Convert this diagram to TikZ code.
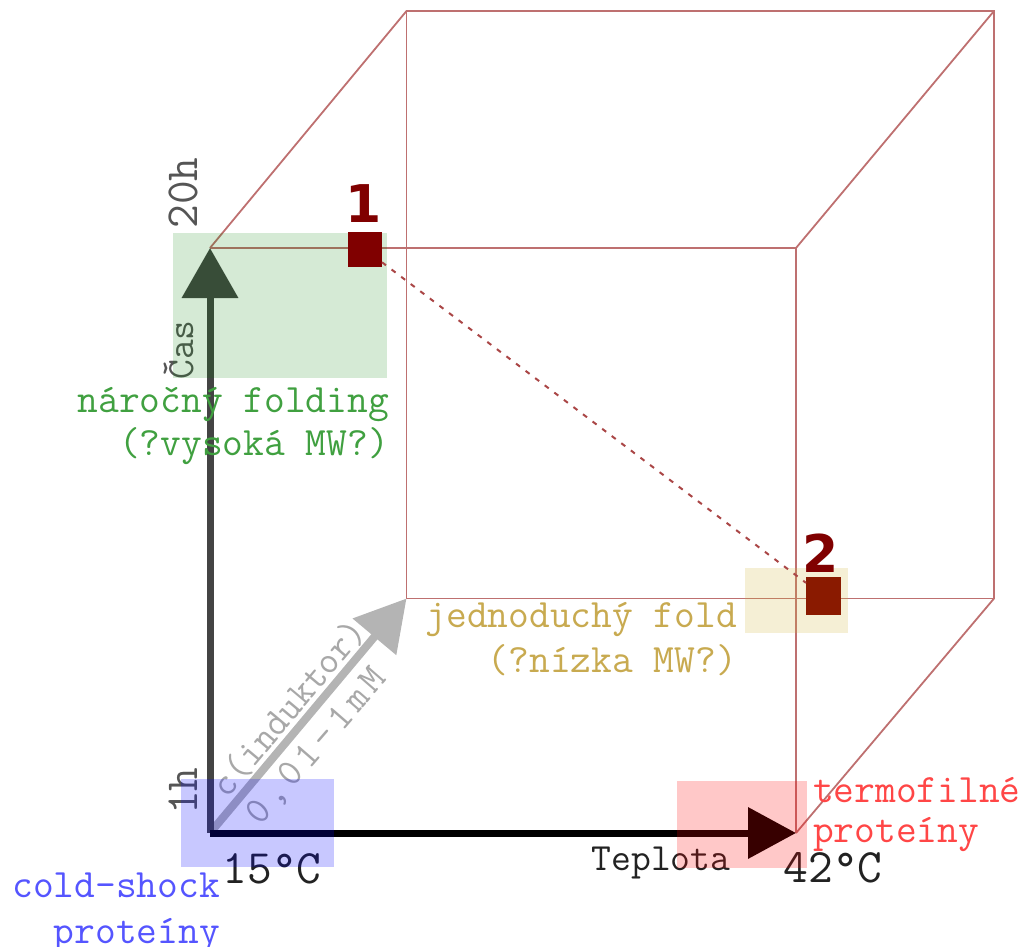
\documentclass[tikz,border=0pt]{standalone}
\usepackage{fontspec}
\newfontfamily\bigfont{DejaVu Sans}
\usetikzlibrary{arrows.meta}
\definecolor{cubec}{RGB}{190,112,112}
\definecolor{dashc}{RGB}{170,70,70}
\definecolor{axisgray}{RGB}{68,68,68}
\definecolor{diaggray}{RGB}{180,180,180}
\definecolor{diagtext}{RGB}{168,168,168}
\definecolor{labgray}{RGB}{85,85,85}
\definecolor{txtgreen}{RGB}{64,160,64}
\definecolor{txtyellow}{RGB}{200,170,80}
\definecolor{txtblue}{RGB}{85,85,255}
\definecolor{txtred}{RGB}{255,70,70}
\definecolor{txtdark}{RGB}{34,34,34}
\definecolor{ovyellow}{RGB}{208,181,60}
\definecolor{ptred}{RGB}{128,0,0}
\definecolor{ptred2}{RGB}{138,26,0}
\tikzset{
  cubeedge/.style={draw=cubec, line width=1.8pt},
  mono/.style={inner sep=0pt, outer sep=0pt, font=\ttfamily\fontsize{38.5}{44}\selectfont},
  catlabel/.style={inner sep=0pt, outer sep=0pt, font=\ttfamily\fontsize{40.3}{46}\selectfont},
  monobig/.style={inner sep=0pt, outer sep=0pt, font=\ttfamily\fontsize{46}{52}\selectfont, text=txtdark},
  degree/.style={inner sep=0pt, outer sep=0pt, font=\ttfamily\fontsize{48}{54}\selectfont, text=txtdark},
  ptlabel/.style={inner sep=0pt, outer sep=0pt, font=\bigfont\bfseries\fontsize{52}{56}\selectfont, text=ptred},
  ptbox/.style={draw=none, inner sep=0pt, outer sep=0pt},
  dashline/.style={draw=dashc, line width=2pt, dash pattern=on 5pt off 7pt},
}
\newcommand{\spc}[1]{\makebox[25pt]{#1}}
\begin{document}
\begin{tikzpicture}[x=1pt,y=-1pt]
\useasboundingbox (0,0) rectangle (1022,947);
% cube corners
\coordinate (ftl) at (210,248);
\coordinate (ftr) at (796,248);
\coordinate (fbl) at (210,833);
\coordinate (fbr) at (796,833);
\coordinate (btl) at (406.5,11);
\coordinate (btr) at (994,11);
\coordinate (bbl) at (406.5,598.5);
\coordinate (bbr) at (994,598.5);
% cube edges
\draw[cubeedge] (btl) -- (btr) -- (bbr) -- (bbl) -- cycle;
\draw[cubeedge] (ftl) -- (ftr) -- (fbr);
\draw[cubeedge] (ftl) -- (btl);
\draw[cubeedge] (ftr) -- (btr);
\draw[cubeedge] (fbr) -- (bbr);
% axes
\draw[draw=diaggray, line width=8pt, -{Triangle[length=50pt,width=55pt]}] (fbl) -- (bbl);
\draw[draw=axisgray, line width=7pt, -{Triangle[length=50pt,width=55pt]}] (fbl) -- (ftl);
\draw[draw=black, line width=7pt, -{Triangle[length=48pt,width=50pt]}] (fbl) -- (fbr);
% axis labels
\node[monobig, text=labgray, rotate=90, anchor=base] (l20h) at (197,193) {20h};
\node[monobig, text=labgray, rotate=90, anchor=base] (l1h) at (197,791) {1h};
\node[mono, text=labgray, rotate=90, anchor=base] (lcas) at (193,350) {Čas};
\node[degree, anchor=base] (l15) at (272,883) {15°C};
\node[degree, anchor=base] (l42) at (833,882) {42°C};
\node[mono, text=txtdark, anchor=base] (lteplota) at (661,870) {Teplota};
\node[mono, text=diagtext, rotate=50, anchor=center] (lind) at (289,708) {c(induktor)};
\node[mono, text=diagtext, rotate=49, anchor=center] (lconc) at (317,747) {\spc{0}\spc{,}\spc{0}\spc{1}\spc{-}\spc{1}\spc{m}\spc{M}};
% category labels
\node[catlabel, text=txtgreen, anchor=base east] (g1) at (389,412) {náročný folding};
\node[catlabel, text=txtgreen, anchor=base east] (g2) at (389,455) {(?vysoká MW?)};
\node[catlabel, text=txtyellow, anchor=base east] (y1) at (737,627) {jednoduchý fold};
\node[catlabel, text=txtyellow, anchor=base east] (y2) at (737,672) {(?nízka MW?)};
\node[catlabel, text=txtblue, anchor=base east] (b1) at (220,897) {cold-shock};
\node[catlabel, text=txtblue, anchor=base east] (b2) at (220,943) {proteíny};
\node[catlabel, text=txtred, anchor=base west] (r1) at (813,802) {termofilné};
\node[catlabel, text=txtred, anchor=base west] (r2) at (813,842) {proteíny};
% translucent overlays
\fill[green!50!black, fill opacity=0.165] (173,233) rectangle (387,378);
\fill[blue, fill opacity=0.215] (181,779) rectangle (334,867);
\fill[red, fill opacity=0.215] (677,781) rectangle (807,868);
\fill[ovyellow, fill opacity=0.215] (745,568) rectangle (848,633);
% points
\node[ptbox, fill=ptred, minimum width=34pt, minimum height=35pt] (p1) at (365,249.5) {};
\node[ptbox, fill=ptred2, minimum width=35pt, minimum height=38pt] (p2) at (823.5,596) {};
\draw[dashline] (p1) -- (p2);
\node[ptlabel, anchor=base] (n1) at (363.5,222) {1};
\node[ptlabel, anchor=base] (n2) at (821,572) {2};
\end{tikzpicture}
\end{document}
